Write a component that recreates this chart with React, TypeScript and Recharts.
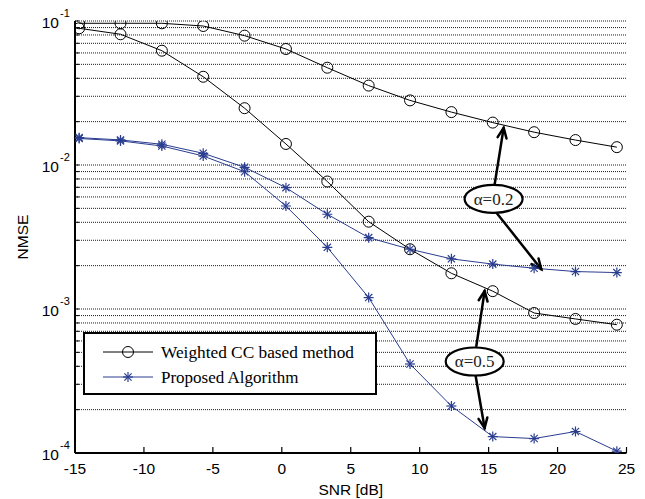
import React from 'react';
import {
  LineChart, Line, XAxis, YAxis, CartesianGrid, ReferenceLine, ReferenceDot, Legend,
} from 'recharts';

// ---- data ----
const snr = [-14.7, -11.7, -8.7, -5.7, -2.7, 0.3, 3.3, 6.3, 9.3, 12.3, 15.3, 18.3, 21.3, 24.3];
const ccAlpha02 = [0.0964, 0.0964, 0.0964, 0.0923, 0.0791, 0.0639, 0.0474, 0.0356, 0.0281, 0.0233, 0.0197, 0.0169, 0.0149, 0.0133];
const ccAlpha05 = [0.089, 0.0809, 0.0622, 0.041, 0.0248, 0.014, 0.00768, 0.00404, 0.0026, 0.00177, 0.00133, 0.000938, 0.000853, 0.000778];
const propAlpha02 = [0.01549, 0.01493, 0.01393, 0.01206, 0.00964, 0.00696, 0.00455, 0.00313, 0.0026, 0.00223, 0.00205, 0.00192, 0.00182, 0.00179];
const propAlpha05 = [0.01528, 0.0147, 0.01355, 0.01155, 0.00898, 0.00519, 0.00268, 0.0012, 0.000415, 0.000212, 0.00013, 0.000126, 0.000141, 0.000103];

const xTicks = [-15, -10, -5, 0, 5, 10, 15, 20, 25];
const yDecades = [1e-4, 1e-3, 1e-2, 1e-1];
const mantissas = [1, 2, 3, 4, 5, 6, 7, 8, 9];
const yGridTicks = [
  ...yDecades.slice(0, 3).flatMap((d) => mantissas.map((m) => m * d)),
  1e-1,
];

const legendNames = ['Weighted CC based method', 'Proposed Algorithm'];

const annotations = [
  {
    label: 'α=0.2',
    at: { x: 15.36, y: 0.00581 },
    arrows: [
      [{ x: 15.43, y: 0.00726 }, { x: 16.09, y: 0.0181 }],
      [{ x: 15.58, y: 0.00464 }, { x: 18.82, y: 0.00189 }],
    ],
  },
  {
    label: 'α=0.5',
    at: { x: 13.99, y: 0.000432 },
    arrows: [
      [{ x: 14.11, y: 0.000553 }, { x: 14.71, y: 0.001334 }],
      [{ x: 14.06, y: 0.000343 }, { x: 14.71, y: 0.000149 }],
    ],
  },
];

const data = snr.map((s, i) => ({
  snr: s,
  cc02: ccAlpha02[i],
  cc05: ccAlpha05[i],
  pr02: propAlpha02[i],
  pr05: propAlpha05[i],
}));

const BLUE = '#2a3d8f';
const AXIS_FONT = '"Liberation Sans", Arial, sans-serif';
const SERIF = '"Liberation Serif", "Times New Roman", serif';

const Star = (props: any) => {
  const { cx, cy, stroke } = props;
  if (cx == null || cy == null) return null;
  const a = 5;
  const b = 3.6;
  return (
    <g stroke={stroke || BLUE} strokeWidth={1.2}>
      <line x1={cx - a} y1={cy} x2={cx + a} y2={cy} />
      <line x1={cx} y1={cy - a} x2={cx} y2={cy + a} />
      <line x1={cx - b} y1={cy - b} x2={cx + b} y2={cy + b} />
      <line x1={cx - b} y1={cy + b} x2={cx + b} y2={cy - b} />
    </g>
  );
};

const renderStar = (props: any) => <Star key={`s-${props.index}-${props.dataKey}`} {...props} stroke={BLUE} />;

const YTick = (props: any) => {
  const { x, y, payload } = props;
  const v = payload.value;
  const e = Math.log10(v);
  if (Math.abs(e - Math.round(e)) > 1e-6) return null;
  const exp = Math.round(e);
  return (
    <g fontFamily={AXIS_FONT} fill="#000">
      <text x={x - 1} y={y + 7} textAnchor="end" fontSize={15.5}>10</text>
      <text x={x} y={y - 4} textAnchor="start" fontSize={11}>{String(exp)}</text>
    </g>
  );
};

const Arrow = (props: any) => {
  const { x1, y1, x2, y2 } = props;
  const ang = Math.atan2(y2 - y1, x2 - x1);
  const len = 11;
  const spread = 0.42;
  const ax1 = x2 - len * Math.cos(ang - spread);
  const ay1 = y2 - len * Math.sin(ang - spread);
  const ax2 = x2 - len * Math.cos(ang + spread);
  const ay2 = y2 - len * Math.sin(ang + spread);
  return (
    <g stroke="#000" strokeWidth={2.5} fill="none" strokeLinecap="round">
      <line x1={x1} y1={y1} x2={x2} y2={y2} />
      <polyline points={`${ax1},${ay1} ${x2},${y2} ${ax2},${ay2}`} />
    </g>
  );
};

const makeBubble = (label: string) => (props: any) => {
  const { cx, cy } = props;
  return (
    <g>
      <ellipse cx={cx} cy={cy} rx={29} ry={14} fill="#fff" stroke="#000" strokeWidth={2.2} />
      <text x={cx} y={cy + 6} textAnchor="middle" fontFamily={SERIF} fontSize={17} fill="#222">{label}</text>
    </g>
  );
};

const LegendBox = () => (
  <svg width={294} height={63} style={{ display: 'block' }}>
    <rect x={1} y={1} width={292} height={61} fill="#fff" stroke="#000" strokeWidth={2} />
    <line x1={20} y1={20} x2={70} y2={20} stroke="#000" strokeWidth={1} />
    <circle cx={45} cy={20} r={5.5} fill="none" stroke="#000" strokeWidth={1} />
    <text x={78} y={25.5} fontFamily={SERIF} fontSize={17.3} fill="#000">{legendNames[0]}</text>
    <line x1={20} y1={45} x2={70} y2={45} stroke={BLUE} strokeWidth={1} />
    <Star cx={45} cy={45} stroke={BLUE} />
    <text x={78} y={50.5} fontFamily={SERIF} fontSize={17} fill="#000">{legendNames[1]}</text>
  </svg>
);

export default function App() {
  return (
    <div style={{ position: 'absolute', left: 0, top: 0, background: '#fff' }}>
      <LineChart
        width={645}
        height={499}
        data={data}
        margin={{ top: 21, right: 18.5, bottom: 0, left: 0 }}
      >
        <CartesianGrid
          horizontal
          vertical={false}
          stroke="#1a1a1a"
          strokeDasharray="1 1"
          strokeWidth={1}
        />
        <XAxis
          dataKey="snr"
          type="number"
          domain={[-15, 25]}
          ticks={xTicks}
          interval={0}
          height={46}
          tickSize={-6}
          tickMargin={16}
          axisLine={{ stroke: '#000', strokeWidth: 2 }}
          tickLine={{ stroke: '#000', strokeWidth: 1.2 }}
          tick={{ fill: '#000', fontSize: 15.5, fontFamily: AXIS_FONT }}
          allowDataOverflow
          label={({ viewBox }: any) => (
            <text
              x={viewBox.x + viewBox.width / 2}
              y={495}
              textAnchor="middle"
              fontFamily={AXIS_FONT}
              fontSize={15.5}
              fill="#000"
            >
              SNR [dB]
            </text>
          )}
        />
        <XAxis
          xAxisId="top"
          orientation="top"
          dataKey="snr"
          type="number"
          domain={[-15, 25]}
          ticks={xTicks}
          interval={0}
          height={0}
          tickSize={-6}
          tick={false}
          axisLine={{ stroke: '#000', strokeWidth: 2 }}
          tickLine={{ stroke: '#000', strokeWidth: 1.2 }}
          allowDataOverflow
        />
        <YAxis
          scale="log"
          type="number"
          domain={[1e-4, 1e-1]}
          ticks={yGridTicks}
          interval={0}
          width={75}
          tickSize={-4}
          tickMargin={19}
          axisLine={{ stroke: '#000', strokeWidth: 2 }}
          tickLine={{ stroke: '#000', strokeWidth: 1 }}
          tick={<YTick />}
          allowDataOverflow
          label={({ viewBox }: any) => (
            <text
              x={22.5}
              y={viewBox.y + viewBox.height / 2}
              transform={`rotate(-90 22.5 ${viewBox.y + viewBox.height / 2})`}
              textAnchor="middle"
              dominantBaseline="central"
              fontFamily={AXIS_FONT}
              fontSize={15.5}
              fill="#000"
            >
              NMSE
            </text>
          )}
        />
        <YAxis
          yAxisId="right"
          orientation="right"
          scale="log"
          type="number"
          domain={[1e-4, 1e-1]}
          ticks={yGridTicks}
          interval={0}
          width={0}
          tickSize={-4}
          tick={false}
          axisLine={{ stroke: '#000', strokeWidth: 2 }}
          tickLine={{ stroke: '#000', strokeWidth: 1 }}
          allowDataOverflow
        />
        <Line
          dataKey="cc02"
          stroke="#000"
          strokeWidth={1}
          dot={{ r: 5.5, stroke: '#000', fill: 'none', strokeWidth: 1 }}
          isAnimationActive={false}
          type="linear"
        />
        <Line
          dataKey="cc05"
          stroke="#000"
          strokeWidth={1}
          dot={{ r: 5.5, stroke: '#000', fill: 'none', strokeWidth: 1 }}
          isAnimationActive={false}
          type="linear"
        />
        <Line
          dataKey="pr02"
          stroke={BLUE}
          strokeWidth={1}
          dot={renderStar}
          isAnimationActive={false}
          type="linear"
        />
        <Line
          dataKey="pr05"
          stroke={BLUE}
          strokeWidth={1}
          dot={renderStar}
          isAnimationActive={false}
          type="linear"
        />
        {annotations.flatMap((a, i) =>
          a.arrows.map((seg, j) => (
            <ReferenceLine
              key={`arr-${i}-${j}`}
              segment={seg}
              ifOverflow="visible"
              shape={(p: any) => <Arrow {...p} />}
            />
          )),
        )}
        {annotations.map((a, i) => (
          <ReferenceDot
            key={`bub-${i}`}
            x={a.at.x}
            y={a.at.y}
            ifOverflow="visible"
            shape={makeBubble(a.label)}
          />
        ))}
        <Legend
          layout="horizontal"
          verticalAlign="middle"
          align="center"
          wrapperStyle={{ left: 83, top: 332, width: 294, height: 63 }}
          content={() => <LegendBox />}
        />
      </LineChart>
    </div>
  );
}
